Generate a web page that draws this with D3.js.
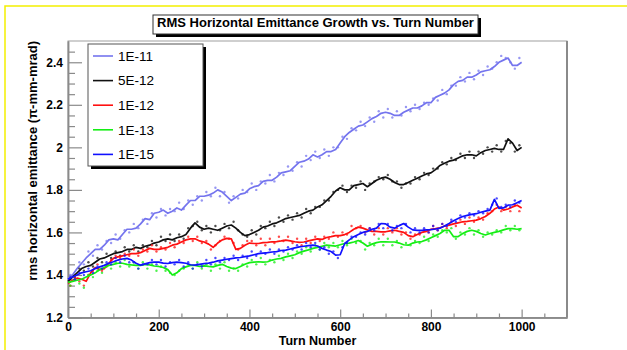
<!DOCTYPE html>
<html>
<head>
<meta charset="utf-8">
<script src="https://cdn.jsdelivr.net/npm/d3@7"></script>
<style>
  body { margin: 0; background: #fff; }
  svg { display: block; font-family: "Liberation Sans", Arial, sans-serif; }
</style>
</head>
<body>
<script>
"use strict";

// turn numbers: running curve every 10 turns, raw samples in between
const lineTurns = d3.range(0, 1001, 10);
const dotTurns = d3.range(5, 1000, 10);

const seriesLabels = ["1E-11", "5E-12", "1E-12", "1E-13", "1E-15"];
const seriesColors = ["#7474ee", "#111111", "#ff1010", "#14ee14", "#1010ff"];

const xMajorTicks = [0, 200, 400, 600, 800, 1000];
const yMajorTicks = [1.2, 1.4, 1.6, 1.8, 2, 2.2, 2.4];

const line1e11 = [1.38, 1.40, 1.43, 1.455, 1.48, 1.50, 1.52, 1.52, 1.54, 1.565,
  1.57, 1.565, 1.59, 1.615, 1.615, 1.62, 1.64, 1.665, 1.66, 1.69,
  1.695, 1.705, 1.69, 1.70, 1.715, 1.705, 1.728, 1.75, 1.75, 1.77,
  1.77, 1.775, 1.785, 1.80, 1.79, 1.77, 1.75, 1.765, 1.78, 1.785,
  1.805, 1.815, 1.82, 1.84, 1.845, 1.845, 1.86, 1.88, 1.885, 1.89,
  1.91, 1.93, 1.935, 1.945, 1.965, 1.955, 1.965, 1.98, 1.98, 1.99,
  2.02, 2.05, 2.07, 2.085, 2.10, 2.105, 2.12, 2.135, 2.145, 2.16,
  2.165, 2.16, 2.15, 2.15, 2.165, 2.175, 2.185, 2.185, 2.195, 2.21,
  2.21, 2.235, 2.245, 2.255, 2.27, 2.295, 2.31, 2.315, 2.33, 2.33,
  2.34, 2.355, 2.36, 2.365, 2.38, 2.40, 2.41, 2.42, 2.385, 2.385, 2.40];
const line5e12 = [1.37, 1.39, 1.41, 1.43, 1.44, 1.445, 1.46, 1.475, 1.48, 1.49,
  1.50, 1.505, 1.51, 1.52, 1.52, 1.53, 1.525, 1.535, 1.54, 1.55,
  1.555, 1.565, 1.57, 1.565, 1.575, 1.58, 1.59, 1.62, 1.645, 1.625,
  1.615, 1.62, 1.615, 1.61, 1.62, 1.63, 1.635, 1.62, 1.60, 1.585,
  1.59, 1.60, 1.61, 1.625, 1.63, 1.64, 1.645, 1.655, 1.665, 1.67,
  1.675, 1.68, 1.69, 1.70, 1.705, 1.72, 1.73, 1.75, 1.77, 1.795,
  1.81, 1.80, 1.80, 1.82, 1.825, 1.83, 1.815, 1.83, 1.845, 1.855,
  1.86, 1.85, 1.835, 1.825, 1.825, 1.835, 1.845, 1.855, 1.865, 1.875,
  1.88, 1.895, 1.915, 1.925, 1.935, 1.94, 1.95, 1.96, 1.965, 1.965,
  1.96, 1.975, 1.985, 1.99, 1.995, 1.99, 1.99, 2.04, 2.02, 1.985, 2.00];
const line1e12 = [1.36, 1.375, 1.385, 1.38, 1.37, 1.41, 1.435, 1.425, 1.43, 1.455,
  1.478, 1.485, 1.49, 1.495, 1.50, 1.50, 1.505, 1.515, 1.525, 1.52,
  1.52, 1.525, 1.53, 1.54, 1.545, 1.555, 1.565, 1.57, 1.57, 1.56,
  1.555, 1.545, 1.53, 1.55, 1.565, 1.572, 1.57, 1.52, 1.525, 1.54,
  1.55, 1.548, 1.548, 1.552, 1.553, 1.556, 1.557, 1.56, 1.564, 1.56,
  1.556, 1.553, 1.555, 1.56, 1.565, 1.57, 1.567, 1.576, 1.58, 1.585,
  1.585, 1.59, 1.60, 1.615, 1.625, 1.62, 1.612, 1.605, 1.605, 1.603,
  1.603, 1.607, 1.61, 1.605, 1.60, 1.585, 1.58, 1.59, 1.60, 1.605,
  1.615, 1.618, 1.622, 1.63, 1.634, 1.64, 1.645, 1.65, 1.652, 1.655,
  1.658, 1.665, 1.675, 1.69, 1.71, 1.72, 1.705, 1.71, 1.72, 1.728, 1.715];
const line1e13 = [1.365, 1.37, 1.375, 1.38, 1.39, 1.40, 1.41, 1.425, 1.435, 1.445,
  1.45, 1.455, 1.455, 1.45, 1.447, 1.445, 1.445, 1.45, 1.447, 1.442,
  1.44, 1.435, 1.425, 1.40, 1.41, 1.43, 1.438, 1.445, 1.445, 1.44,
  1.443, 1.44, 1.438, 1.445, 1.45, 1.44, 1.432, 1.43, 1.44, 1.45,
  1.458, 1.46, 1.462, 1.46, 1.462, 1.47, 1.475, 1.478, 1.485, 1.49,
  1.495, 1.505, 1.512, 1.518, 1.525, 1.53, 1.535, 1.54, 1.538, 1.536,
  1.542, 1.548, 1.55, 1.555, 1.562, 1.55, 1.535, 1.545, 1.552, 1.556,
  1.556, 1.555, 1.555, 1.55, 1.542, 1.54, 1.55, 1.555, 1.557, 1.565,
  1.575, 1.585, 1.595, 1.61, 1.61, 1.58, 1.58, 1.595, 1.605, 1.61,
  1.605, 1.595, 1.588, 1.595, 1.60, 1.605, 1.612, 1.618, 1.618, 1.615, 1.618];
const line1e15 = [1.38, 1.39, 1.40, 1.41, 1.415, 1.42, 1.43, 1.438, 1.445, 1.455,
  1.462, 1.47, 1.475, 1.478, 1.47, 1.455, 1.446, 1.452, 1.458, 1.46,
  1.46, 1.456, 1.454, 1.458, 1.46, 1.458, 1.455, 1.448, 1.446, 1.45,
  1.453, 1.456, 1.46, 1.466, 1.47, 1.474, 1.477, 1.48, 1.482, 1.486,
  1.49, 1.495, 1.50, 1.503, 1.505, 1.508, 1.51, 1.515, 1.517, 1.522,
  1.527, 1.532, 1.535, 1.538, 1.54, 1.536, 1.525, 1.517, 1.51, 1.493,
  1.495, 1.548, 1.565, 1.58, 1.59, 1.60, 1.605, 1.615, 1.62, 1.642,
  1.64, 1.625, 1.62, 1.632, 1.642, 1.625, 1.612, 1.61, 1.61, 1.612,
  1.613, 1.616, 1.62, 1.63, 1.642, 1.655, 1.665, 1.675, 1.68, 1.685,
  1.688, 1.695, 1.70, 1.705, 1.755, 1.713, 1.715, 1.728, 1.73, 1.74, 1.75];

const dots1e11 = [1.40, 1.39, 1.46, 1.45, 1.51, 1.49, 1.54, 1.52, 1.56, 1.55,
  1.59, 1.57, 1.61, 1.60, 1.64, 1.62, 1.66, 1.64, 1.69, 1.67,
  1.71, 1.68, 1.71, 1.70, 1.74, 1.71, 1.75, 1.73, 1.77, 1.75,
  1.79, 1.77, 1.81, 1.77, 1.79, 1.74, 1.77, 1.76, 1.80, 1.79,
  1.83, 1.80, 1.84, 1.83, 1.87, 1.84, 1.88, 1.87, 1.91, 1.89,
  1.93, 1.91, 1.96, 1.94, 1.98, 1.95, 1.99, 1.96, 2.00, 2.00,
  2.05, 2.04, 2.09, 2.08, 2.12, 2.10, 2.14, 2.12, 2.17, 2.14,
  2.18, 2.14, 2.17, 2.15, 2.19, 2.17, 2.20, 2.18, 2.21, 2.20,
  2.23, 2.22, 2.27, 2.25, 2.29, 2.29, 2.33, 2.31, 2.35, 2.32,
  2.36, 2.34, 2.38, 2.37, 2.40, 2.43, 2.42, 2.40, 2.37, 2.42];
const dots5e12 = [1.38, 1.39, 1.43, 1.42, 1.46, 1.44, 1.48, 1.46, 1.50, 1.48,
  1.51, 1.49, 1.53, 1.51, 1.54, 1.51, 1.54, 1.53, 1.56, 1.54,
  1.58, 1.56, 1.59, 1.56, 1.59, 1.57, 1.62, 1.63, 1.65, 1.61,
  1.63, 1.60, 1.63, 1.61, 1.64, 1.62, 1.65, 1.61, 1.59, 1.58,
  1.61, 1.59, 1.63, 1.62, 1.65, 1.63, 1.67, 1.65, 1.68, 1.66,
  1.69, 1.67, 1.71, 1.69, 1.72, 1.72, 1.75, 1.75, 1.79, 1.80,
  1.82, 1.79, 1.82, 1.81, 1.84, 1.80, 1.83, 1.84, 1.86, 1.85,
  1.87, 1.84, 1.84, 1.81, 1.83, 1.83, 1.86, 1.85, 1.88, 1.87,
  1.90, 1.90, 1.93, 1.92, 1.95, 1.94, 1.97, 1.95, 1.98, 1.95,
  1.98, 1.97, 2.00, 1.98, 2.01, 1.98, 2.03, 2.02, 1.98, 2.01];
const dots1e12 = [1.35, 1.39, 1.37, 1.35, 1.40, 1.42, 1.45, 1.42, 1.44, 1.47,
  1.49, 1.48, 1.50, 1.49, 1.52, 1.49, 1.52, 1.51, 1.54, 1.51,
  1.53, 1.52, 1.55, 1.53, 1.56, 1.55, 1.58, 1.56, 1.58, 1.55,
  1.56, 1.52, 1.54, 1.56, 1.58, 1.57, 1.55, 1.52, 1.54, 1.56,
  1.56, 1.54, 1.57, 1.54, 1.57, 1.55, 1.58, 1.56, 1.58, 1.55,
  1.57, 1.54, 1.57, 1.55, 1.58, 1.56, 1.58, 1.57, 1.60, 1.58,
  1.60, 1.59, 1.63, 1.62, 1.63, 1.60, 1.62, 1.59, 1.62, 1.59,
  1.62, 1.60, 1.62, 1.59, 1.60, 1.57, 1.59, 1.59, 1.61, 1.60,
  1.63, 1.61, 1.64, 1.62, 1.65, 1.63, 1.66, 1.64, 1.67, 1.65,
  1.67, 1.66, 1.69, 1.70, 1.73, 1.70, 1.72, 1.70, 1.73, 1.70];
const dots1e13 = [1.35, 1.38, 1.36, 1.34, 1.40, 1.39, 1.42, 1.41, 1.45, 1.43,
  1.46, 1.44, 1.47, 1.44, 1.46, 1.43, 1.46, 1.43, 1.45, 1.42,
  1.44, 1.42, 1.41, 1.40, 1.42, 1.43, 1.45, 1.43, 1.46, 1.43,
  1.45, 1.42, 1.45, 1.43, 1.46, 1.42, 1.43, 1.42, 1.45, 1.44,
  1.47, 1.45, 1.48, 1.45, 1.47, 1.46, 1.49, 1.47, 1.50, 1.48,
  1.51, 1.50, 1.53, 1.51, 1.54, 1.52, 1.55, 1.53, 1.55, 1.53,
  1.56, 1.54, 1.57, 1.55, 1.56, 1.52, 1.55, 1.54, 1.57, 1.54,
  1.57, 1.54, 1.56, 1.53, 1.55, 1.54, 1.56, 1.55, 1.58, 1.56,
  1.59, 1.58, 1.61, 1.60, 1.62, 1.57, 1.60, 1.59, 1.62, 1.59,
  1.61, 1.58, 1.60, 1.59, 1.61, 1.60, 1.63, 1.61, 1.63, 1.61];
const dots1e15 = [1.39, 1.38, 1.41, 1.40, 1.43, 1.41, 1.44, 1.43, 1.46, 1.45,
  1.48, 1.46, 1.49, 1.46, 1.46, 1.43, 1.45, 1.45, 1.47, 1.45,
  1.47, 1.44, 1.46, 1.45, 1.47, 1.44, 1.46, 1.43, 1.45, 1.44,
  1.47, 1.45, 1.48, 1.46, 1.48, 1.47, 1.49, 1.47, 1.49, 1.48,
  1.51, 1.49, 1.51, 1.50, 1.52, 1.50, 1.52, 1.51, 1.53, 1.52,
  1.54, 1.52, 1.55, 1.53, 1.55, 1.52, 1.53, 1.50, 1.51, 1.48,
  1.53, 1.55, 1.58, 1.58, 1.60, 1.59, 1.62, 1.61, 1.64, 1.62,
  1.64, 1.61, 1.63, 1.62, 1.64, 1.60, 1.62, 1.60, 1.62, 1.60,
  1.63, 1.61, 1.64, 1.63, 1.66, 1.65, 1.68, 1.67, 1.69, 1.68,
  1.70, 1.69, 1.71, 1.73, 1.76, 1.72, 1.73, 1.72, 1.75, 1.74];

const lineValues = [line1e11, line5e12, line1e12, line1e13, line1e15];
const dotValues = [dots1e11, dots5e12, dots1e12, dots1e13, dots1e15];

const width = 627, height = 350;
const axisColor = "#8a8a8a";

const svg = d3.select("body").append("svg")
    .attr("width", width)
    .attr("height", height);

// yellow page border (top and left only are visible)
svg.append("path")
    .attr("d", `M5,${height} L5,6 L${width},6`)
    .attr("fill", "none")
    .attr("stroke", "#f4f000")
    .attr("stroke-width", 1.5);

const x = d3.scaleLinear().domain([0, 1100]).range([68, 567]);
const y = d3.scaleLinear().domain([1.2, 2.5]).range([317.5, 41]);

// frame
svg.append("rect")
    .attr("x", x(0)).attr("y", y(2.5))
    .attr("width", x(1100) - x(0)).attr("height", y(1.2) - y(2.5))
    .attr("fill", "none").attr("stroke", "#a0a0a0").attr("stroke-width", 1);
svg.append("line")
    .attr("x1", x(1100)).attr("x2", x(1100))
    .attr("y1", y(2.5)).attr("y2", y(1.2))
    .attr("stroke", axisColor).attr("stroke-width", 2);

// axes, ROOT style: ticks pointing into the frame
const xMinorTicks = d3.range(50, 1100, 50).filter(t => t % 200 !== 0);
const yMinorTicks = d3.range(1.25, 2.5, 0.05).filter(v => Math.abs(v * 5 - Math.round(v * 5)) > 1e-6);

function styleAxis(g) {
    g.selectAll("path.domain").attr("stroke", axisColor).attr("stroke-width", 1.5);
    g.selectAll(".tick line").attr("stroke", axisColor).attr("stroke-width", 1.2);
    g.selectAll(".tick text")
        .attr("fill", "#000")
        .style("font-size", "12px")
        .style("font-weight", "bold")
        .style("font-family", "'Liberation Sans', Arial, sans-serif");
}

svg.append("g")
    .attr("transform", `translate(0,${y(1.2)})`)
    .call(d3.axisBottom(x).tickValues(xMinorTicks).tickSize(-4).tickSizeOuter(0).tickFormat(""))
    .call(styleAxis);
svg.append("g")
    .attr("transform", `translate(0,${y(1.2)})`)
    .call(d3.axisBottom(x).tickValues(xMajorTicks).tickSize(-8).tickSizeOuter(0).tickPadding(5)
        .tickFormat(d3.format("d")))
    .call(styleAxis);

svg.append("g")
    .attr("transform", `translate(${x(0)},0)`)
    .call(d3.axisLeft(y).tickValues(yMinorTicks).tickSize(-7).tickSizeOuter(0).tickFormat(""))
    .call(styleAxis);
svg.append("g")
    .attr("transform", `translate(${x(0)},0)`)
    .call(d3.axisLeft(y).tickValues(yMajorTicks).tickSize(-14).tickSizeOuter(0).tickPadding(5)
        .tickFormat(d3.format("~g")))
    .call(styleAxis);

// axis titles
svg.append("text")
    .attr("x", (x(0) + x(1100)) / 2).attr("y", 345)
    .attr("text-anchor", "middle")
    .style("font-size", "12.5px").style("font-weight", "bold")
    .text("Turn Number");
svg.append("text")
    .attr("transform", `translate(37,${y(2.5)}) rotate(-90)`)
    .attr("text-anchor", "end")
    .style("font-size", "13px").style("font-weight", "bold")
    .text("rms horizontal emittance (\u03c0-mm-mrad)");

// data: raw samples as dots, running curve as line
const plot = svg.append("g");
const lineGen = d3.line().x(d => x(d[0])).y(d => y(d[1]));

seriesLabels.forEach((label, i) => {
    const g = plot.append("g").attr("class", "series");
    g.selectAll("circle")
        .data(dotTurns.map((t, j) => [t, dotValues[i][j]]))
        .join("circle")
        .attr("cx", d => x(d[0]))
        .attr("cy", d => y(d[1]))
        .attr("r", 1.2)
        .attr("fill", seriesColors[i])
        .attr("opacity", 0.75);
    g.append("path")
        .datum(lineTurns.map((t, j) => [t, lineValues[i][j]]))
        .attr("d", lineGen)
        .attr("fill", "none")
        .attr("stroke", seriesColors[i])
        .attr("stroke-width", 1.7)
        .attr("stroke-linejoin", "round");
});

// legend box with drop shadow
const legend = svg.append("g").attr("transform", "translate(88,44)");
legend.append("rect").attr("x", 3).attr("y", 3).attr("width", 115).attr("height", 122).attr("fill", "#000");
legend.append("rect").attr("width", 115).attr("height", 122)
    .attr("fill", "#fff").attr("stroke", "#555").attr("stroke-width", 1);
seriesLabels.forEach((label, i) => {
    const cy = 12 + i * 24.6;
    legend.append("line")
        .attr("x1", 5).attr("x2", 25).attr("y1", cy).attr("y2", cy)
        .attr("stroke", seriesColors[i]).attr("stroke-width", 1.6);
    legend.append("text")
        .attr("x", 30).attr("y", cy).attr("dy", "0.36em")
        .style("font-size", "13.5px")
        .text(label);
});

// title box with drop shadow
const title = svg.append("g").attr("transform", "translate(153,15)");
title.append("rect").attr("x", 3).attr("y", 3).attr("width", 325).attr("height", 19).attr("fill", "#000");
title.append("rect").attr("width", 325).attr("height", 19)
    .attr("fill", "#fff").attr("stroke", "#333").attr("stroke-width", 1);
title.append("text")
    .attr("x", 162.5).attr("y", 11.8)
    .attr("text-anchor", "middle")
    .style("font-size", "13px").style("font-weight", "bold")
    .text("RMS Horizontal Emittance Growth vs. Turn Number");
</script>
</body>
</html>
